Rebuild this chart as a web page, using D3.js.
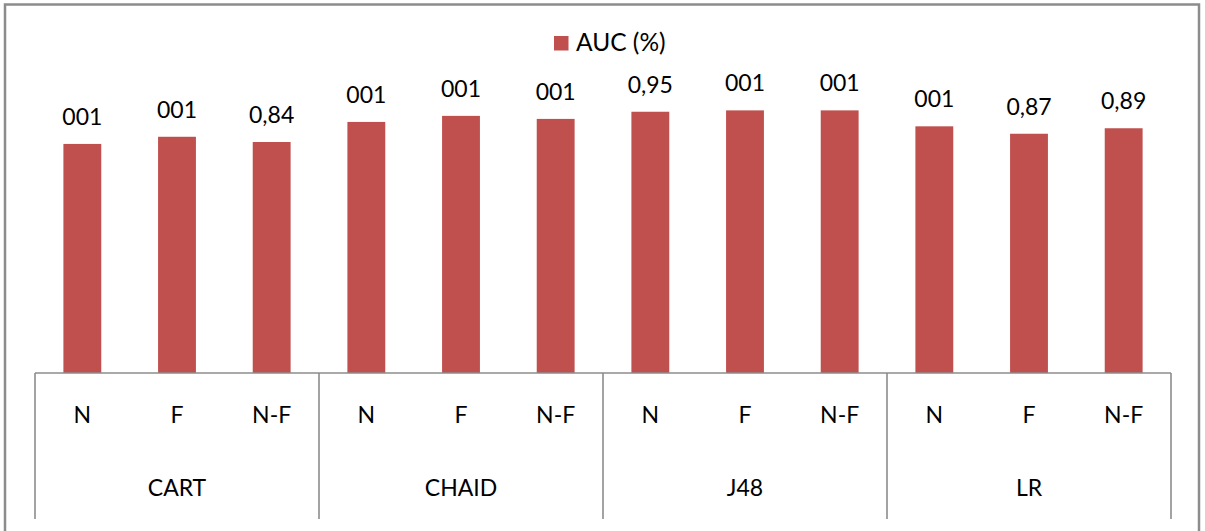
<!DOCTYPE html>
<html>
<head>
<meta charset="utf-8">
<script src="https://cdn.jsdelivr.net/npm/d3@7"></script>
<style>
  html, body { margin: 0; padding: 0; background: #ffffff; }
  svg { display: block; }
  text { font-family: Lato, "Open Sans", "Noto Sans", sans-serif; fill: #000; }
</style>
</head>
<body>
<svg id="chart" width="1205" height="531"></svg>
<script>
// Models (outer level) and feature sets (inner level)
const groups = ["CART", "CHAID", "J48", "LR"];
const subCategories = ["N", "F", "N-F"];

// AUC per model, in the order of subCategories
const aucCART  = [0.833, 0.859, 0.84];
const aucCHAID = [0.913, 0.935, 0.924];
const aucJ48   = [0.95, 0.955, 0.955];
const aucLR    = [0.897, 0.87, 0.89];

// Data labels as printed above each bar
const labelsCART  = ["001", "001", "0,84"];
const labelsCHAID = ["001", "001", "001"];
const labelsJ48   = ["0,95", "001", "001"];
const labelsLR    = ["001", "0,87", "0,89"];

const seriesName = "AUC (%)";

const valuesByGroup = [aucCART, aucCHAID, aucJ48, aucLR];
const labelsByGroup = [labelsCART, labelsCHAID, labelsJ48, labelsLR];

const data = [];
groups.forEach((g, gi) => {
  subCategories.forEach((s, si) => {
    data.push({ key: g + "|" + s, group: g, sub: s,
                value: valuesByGroup[gi][si], label: labelsByGroup[gi][si] });
  });
});

const svg = d3.select("#chart");
const barColor = "#C0504D";
const lineColor = "#8C8C8C";
const fontSize = 23;

// Chart frame
svg.append("rect")
  .attr("x", 5).attr("y", 4.5)
  .attr("width", 1194).attr("height", 560)
  .attr("fill", "none")
  .attr("stroke", lineColor)
  .attr("stroke-width", 2.5);

const plotLeft = 35, plotRight = 1171, baseY = 373;

const x = d3.scaleBand()
  .domain(data.map(d => d.key))
  .range([plotLeft, plotRight])
  .paddingInner(0).paddingOuter(0);

const xGroup = d3.scaleBand()
  .domain(groups)
  .range([plotLeft, plotRight]);

const y = d3.scaleLinear().domain([0, 1]).range([baseY, 98]);

const bw = x.bandwidth();
const barW = bw * 0.4;

// Bars
svg.append("g").selectAll("rect")
  .data(data)
  .join("rect")
  .attr("x", d => x(d.key) + (bw - barW) / 2)
  .attr("y", d => y(d.value))
  .attr("width", barW)
  .attr("height", d => baseY - y(d.value))
  .attr("fill", barColor);

// Value labels
svg.append("g").selectAll("text")
  .data(data)
  .join("text")
  .attr("x", d => x(d.key) + bw / 2)
  .attr("y", d => y(d.value) - 19)
  .attr("text-anchor", "middle")
  .attr("font-size", fontSize)
  .text(d => d.label);

// Multi-level category axis
const axis = svg.append("g");
axis.append("line")
  .attr("x1", plotLeft).attr("x2", plotRight)
  .attr("y1", baseY).attr("y2", baseY)
  .attr("stroke", lineColor).attr("stroke-width", 1.6);

const boundaries = groups.map(g => xGroup(g)).concat([plotRight]);
axis.selectAll("line.tick")
  .data(boundaries)
  .join("line")
  .attr("class", "tick")
  .attr("x1", d => d).attr("x2", d => d)
  .attr("y1", baseY).attr("y2", 519)
  .attr("stroke", lineColor).attr("stroke-width", 1.6);

axis.selectAll("text.sub")
  .data(data)
  .join("text")
  .attr("class", "sub")
  .attr("x", d => x(d.key) + bw / 2)
  .attr("y", 422.5)
  .attr("text-anchor", "middle")
  .attr("font-size", fontSize)
  .text(d => d.sub);

axis.selectAll("text.grp")
  .data(groups)
  .join("text")
  .attr("class", "grp")
  .attr("x", d => xGroup(d) + xGroup.bandwidth() / 2)
  .attr("y", 496)
  .attr("text-anchor", "middle")
  .attr("font-size", fontSize)
  .text(d => d);

// Legend
const legend = svg.append("g");
legend.append("rect")
  .attr("x", 554).attr("y", 36)
  .attr("width", 14.5).attr("height", 14.5)
  .attr("fill", barColor);
legend.append("text")
  .attr("x", 576).attr("y", 51)
  .attr("font-size", 24.5)
  .text(seriesName);
</script>
</body>
</html>
